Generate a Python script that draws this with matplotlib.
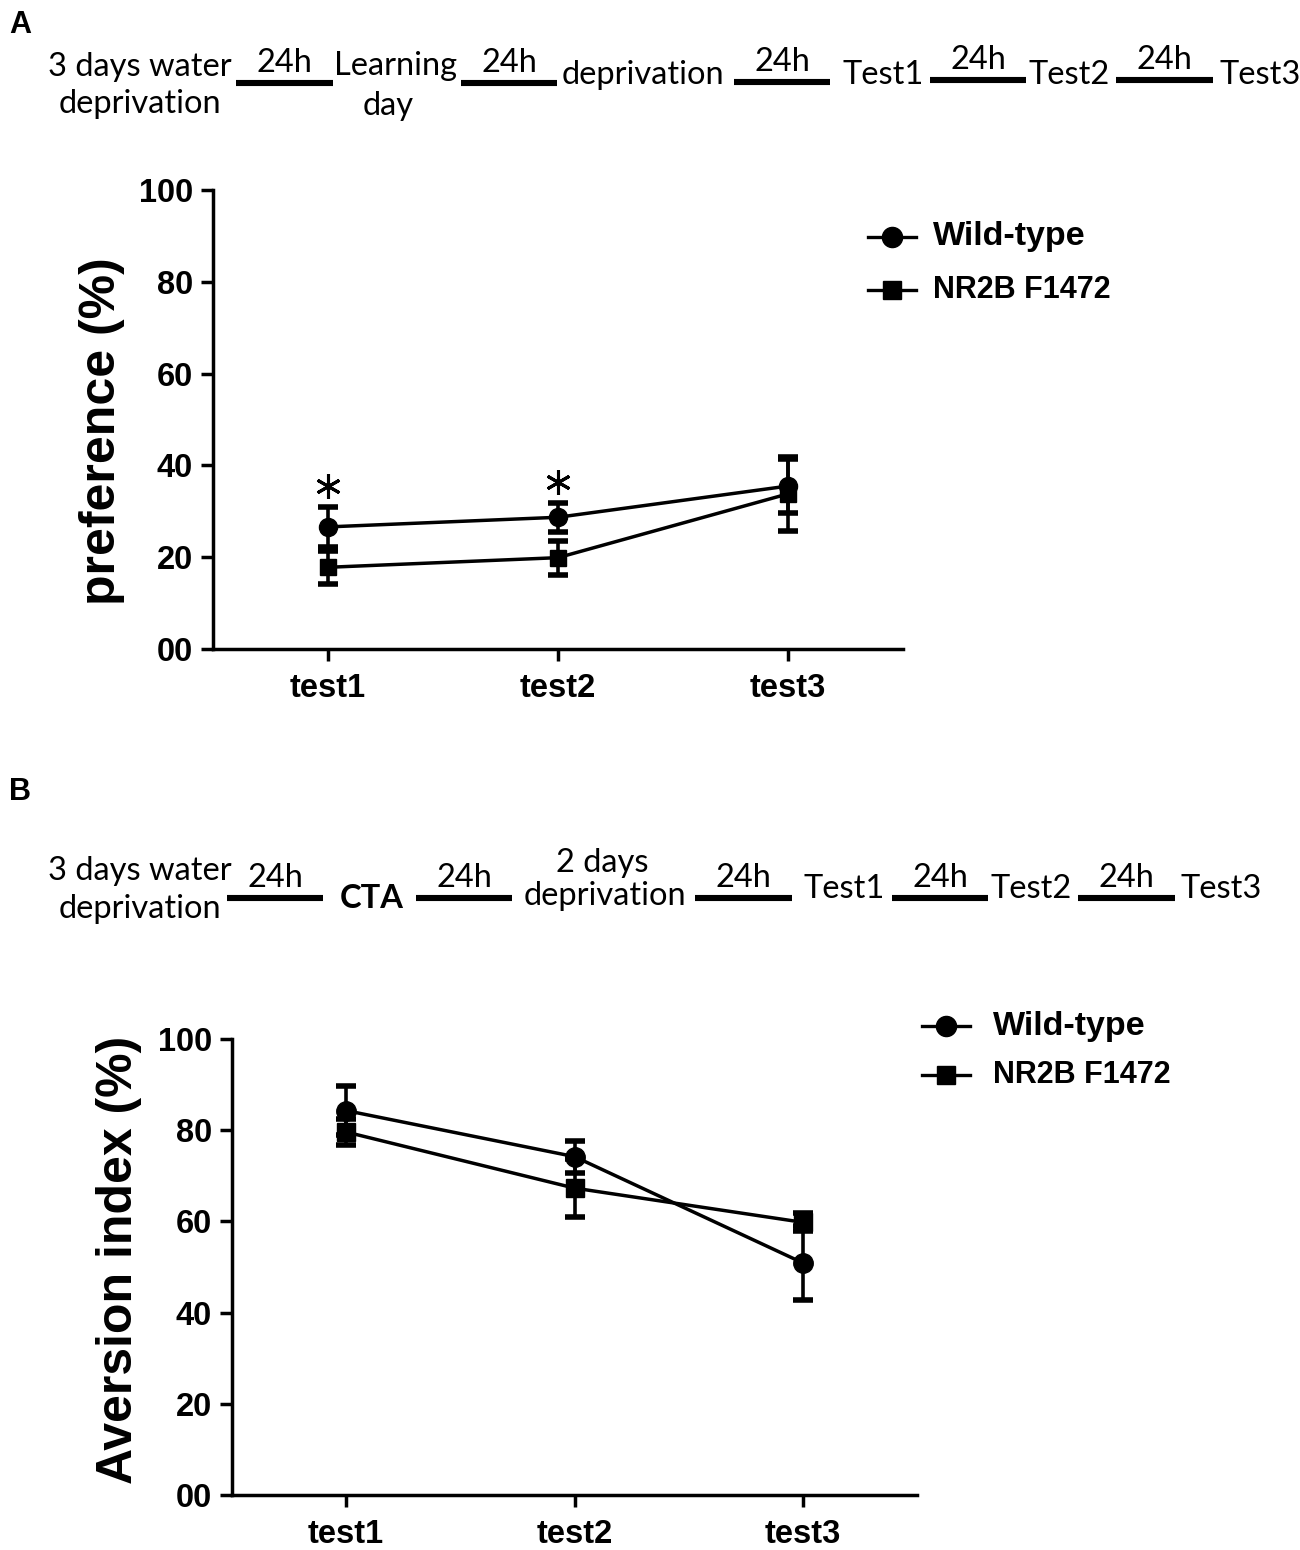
import matplotlib
matplotlib.use('Agg')
import matplotlib.pyplot as plt
from matplotlib.lines import Line2D

W, H = 1300, 1550

# ---- data ----
tests = ['test1', 'test2', 'test3']
ytick_labels = ['00', '20', '40', '60', '80', '100']
series_names = ['Wild-type', 'NR2B F1472']

# panel A: preference (%)
a_wt_mean = [26.6, 28.7, 35.5]
a_wt_sem = [4.4, 3.2, 5.8]
a_nr_mean = [17.8, 19.9, 33.8]
a_nr_sem = [3.6, 3.7, 8.0]
a_signif = [True, True, False]

# panel B: aversion index (%)
b_wt_mean = [84.3, 74.2, 50.9]
b_wt_sem = [5.4, 3.5, 8.2]
b_nr_mean = [79.6, 67.3, 59.8]
b_nr_sem = [2.9, 6.4, 2.0]

# timelines: (label lines, centre x px, baseline y px, bold)
timeline_a = [
    (['3 days water', 'deprivation'], 140, [76, 113], False),
    (['Learning', 'day'], [396, 388], [75, 115], False),
    (['deprivation'], 643, [84], False),
    (['Test1'], 883, [84], False),
    (['Test2'], 1069, [84], False),
    (['Test3'], 1260, [84], False),
]
bars_a = [(236, 333, 83), (461, 557, 83), (734, 830, 82), (930, 1026, 80), (1116, 1213, 80)]

timeline_b = [
    (['3 days water', 'deprivation'], 140, [880, 918], False),
    (['CTA'], 372, [908], True),
    (['2 days', 'deprivation'], [602, 605], [872, 905], False),
    (['Test1'], 844, [898], False),
    (['Test2'], 1031, [898], False),
    (['Test3'], 1221, [898], False),
]
bars_b = [(227, 323, 898), (416, 512, 898), (695, 792, 898), (892, 988, 898), (1078, 1175, 898)]

TL_FONT = ['Lato', 'DejaVu Sans']
AX_FONT = ['Liberation Sans', 'DejaVu Sans']
plt.rcParams['font.family'] = AX_FONT


def fx(px):
    return px / W


def fy(py):
    return 1 - py / H


def draw_timeline(fig, items, bars):
    for lines, xs, ys, bold in items:
        if not isinstance(xs, list):
            xs = [xs] * len(lines)
        for txt, x, y in zip(lines, xs, ys):
            fig.text(fx(x), fy(y), txt, ha='center', va='baseline', fontsize=23.5,
                     family=TL_FONT, fontweight='bold' if bold else 'normal')
    for x0, x1, y in bars:
        fig.add_artist(Line2D([fx(x0), fx(x1)], [fy(y), fy(y)], color='black',
                              lw=4.4, solid_capstyle='butt', transform=fig.transFigure))
        fig.text(fx((x0 + x1) / 2), fy(y - 11), '24h', ha='center', va='baseline',
                 fontsize=23.5, family=TL_FONT)


def draw_legend(fig, x0, x1, ys, xtext, sizes):
    for marker, ms, y, name, fs in zip(['o', 's'], [14.5, 13], ys, series_names, sizes):
        xm = (x0 + x1) / 2
        fig.add_artist(Line2D([fx(x0), fx(xm), fx(x1)], [fy(y)] * 3, color='black', lw=2.4,
                              marker=marker, markersize=ms, markevery=[1],
                              transform=fig.transFigure))
        fig.text(fx(xtext), fy(y), name, ha='left', va='center', fontsize=fs,
                 fontweight='bold')


def style_axes(ax, ylabel, label_xy):
    ax.set_xlim(0.5, 3.5)
    ax.set_ylim(0, 100)
    ax.set_xticks(range(1, len(tests) + 1))
    ax.set_xticklabels(tests)
    ax.set_yticks(range(0, 101, 20))
    ax.set_yticklabels(ytick_labels)
    for s in ['top', 'right']:
        ax.spines[s].set_visible(False)
    for s in ['left', 'bottom']:
        ax.spines[s].set_linewidth(2.5)
    ax.tick_params(axis='both', length=8.5, width=2.5, labelsize=23.5)
    ax.tick_params(axis='y', pad=6)
    ax.tick_params(axis='x', pad=9)
    for lab in ax.get_xticklabels() + ax.get_yticklabels():
        lab.set_fontweight('bold')
    ax.set_ylabel(ylabel, fontsize=36, fontweight='bold')
    ax.yaxis.set_label_coords(*label_xy)


def plot_series(ax, wt_m, wt_s, nr_m, nr_s, ms):
    x = list(range(1, len(tests) + 1))
    kw = dict(color='black', lw=2.5, elinewidth=2.6, capsize=7, capthick=4, clip_on=False)
    ax.errorbar(x, nr_m, yerr=nr_s, marker='s', markersize=ms - 1, **kw)
    ax.errorbar(x, wt_m, yerr=wt_s, marker='o', markersize=ms, **kw)


fig = plt.figure(figsize=(W / 100, H / 100), dpi=100)

# ---- panel A ----
fig.text(fx(9), fy(33), 'A', fontsize=22, fontweight='bold', ha='left', va='baseline')
draw_timeline(fig, timeline_a, bars_a)
ax_a = fig.add_axes([fx(213), fy(649), (903 - 213) / W, (649 - 190) / H])
plot_series(ax_a, a_wt_mean, a_wt_sem, a_nr_mean, a_nr_sem, 13)
for i, sig in enumerate(a_signif):
    if sig:
        ax_a.plot(i + 1, a_wt_mean[i] + a_wt_sem[i] + 4.5, marker=(6, 2, 0),
                  markersize=18, mew=2.2, color='black')
style_axes(ax_a, 'preference (%)', (-0.128, 0.475))
draw_legend(fig, 868, 916, [237, 290], 933, [24.5, 22])

# ---- panel B ----
fig.text(fx(9), fy(800), 'B', fontsize=22, fontweight='bold', ha='left', va='baseline')
draw_timeline(fig, timeline_b, bars_b)
ax_b = fig.add_axes([fx(232), fy(1495), (917 - 232) / W, (1495 - 1039) / H])
plot_series(ax_b, b_wt_mean, b_wt_sem, b_nr_mean, b_nr_sem, 14)
style_axes(ax_b, 'Aversion index (%)', (-0.131, 0.515))
draw_legend(fig, 922, 970, [1026, 1075], 993, [24.5, 22])

fig.savefig('out.png', dpi=100)
